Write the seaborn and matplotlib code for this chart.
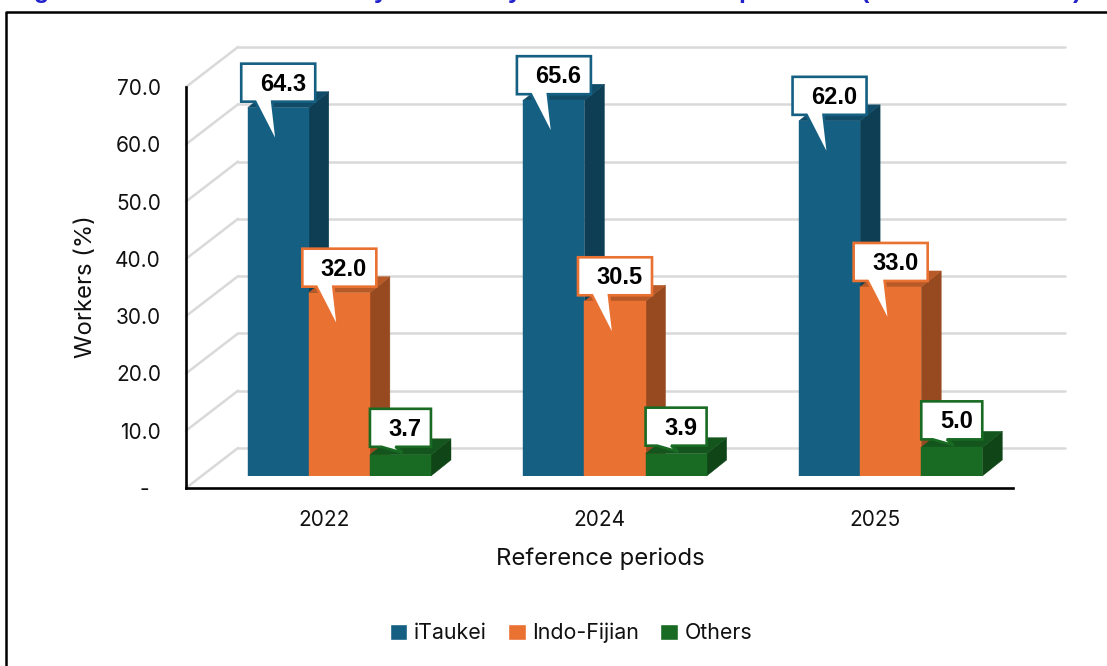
import matplotlib
matplotlib.use('Agg')
import matplotlib.pyplot as plt
from matplotlib.patches import Polygon
import pandas as pd
import seaborn as sns

periods = ['2022', '2024', '2025']
groups = ['iTaukei', 'Indo-Fijian', 'Others']
itaukei = [64.3, 65.6, 62.0]
indo_fijian = [32.0, 30.5, 33.0]
others = [3.7, 3.9, 5.0]
y_ticks = [0, 10, 20, 30, 40, 50, 60, 70]
y_labels = ['-  ', '10.0', '20.0', '30.0', '40.0', '50.0', '60.0', '70.0']

front_cols = ['#156082', '#E97132', '#196B24']
side_cols = ['#0D3E54', '#974A20', '#104617']
top_cols = ['#104C67', '#B85A28', '#14551D']

W, H = 1107, 666
sns.set_theme(style='white')
plt.rcParams['font.family'] = ['Inter', 'DejaVu Sans']

df = pd.DataFrame({
    'period': periods * 3,
    'group': [g for g in groups for _ in periods],
    'share': itaukei + indo_fijian + others,
})

fig = plt.figure(figsize=(W / 100, H / 100), dpi=100)
fig.patch.set_facecolor('white')

# axes rectangle in pixels
left, base, width, height = 186, 488, 827, 401
ax = fig.add_axes([left / W, (H - base) / H, width / W, height / H])
ax.set_xlim(-0.5, 2.5)
ax.set_ylim(0, 70)
px_x = 3 / width
px_y = 70 / height

# back wall + side wall gridlines
wall_dx, wall_dy = 52 * px_x, 40 * px_y
for t in y_ticks:
    ax.plot([2.5 + wall_dx - 3, 2.5 + wall_dx], [t + wall_dy, t + wall_dy], color='#D9D9D9', lw=1.8, clip_on=False, zorder=1)
    ax.plot([-0.5, -0.5 + wall_dx], [t, t + wall_dy], color='#D9D9D9', lw=1.8, clip_on=False, zorder=1)

ax.set_xticks(range(3))
ax.set_xticklabels(periods, fontsize=15)
ax.set_yticks(y_ticks)
ax.set_yticklabels(y_labels, fontsize=15)
ax.tick_params(axis='both', length=0, colors='#111111')
ax.tick_params(axis='x', pad=16)
ax.tick_params(axis='y', pad=18)
for s in ['top', 'right']:
    ax.spines[s].set_visible(False)
for s in ['left', 'bottom']:
    ax.spines[s].set_linewidth(1.9)
    ax.spines[s].set_color('black')
    ax.spines[s].set_zorder(5)
ax.set_xlabel('')
ax.set_ylabel('')
fig.text(600 / W, 1 - 559 / H, 'Reference periods', fontsize=17.2, ha='center', va='center', color='#111111')
fig.text(86 / W, 1 - 287 / H, 'Workers (%)', fontsize=17.2, rotation=90, ha='center', va='center', color='#111111')

# bars sit a bit forward of the wall, so they get an axes of their own
shift_x, shift_y = 15.5, 12
ax2 = fig.add_axes([(left + shift_x) / W, (H - base + shift_y) / H, width / W, height / H])
sns.barplot(data=df, x='period', y='share', hue='group', hue_order=groups, order=periods,
            palette=front_cols, width=0.665, gap=0, saturation=1, ax=ax2, errorbar=None)
ax2.set_xlim(-0.5, 2.5)
ax2.set_ylim(0, 70)
ax2.patch.set_alpha(0)
ax2.axis('off')

sns.move_legend(ax2, 'center', bbox_to_anchor=(571 / W, 1 - 633 / H), bbox_transform=fig.transFigure,
                ncol=3, frameon=False, title=None, fontsize=15.4, handlelength=0.82, handleheight=0.82,
                handletextpad=0.3, columnspacing=1.0)
for txt in ax2.get_legend().get_texts():
    txt.set_color('#111111')

depth_x, depth_y = 20 * px_x, 16 * px_y


def draw_callout(x0, x1, y_top, value, col, small):
    # box + tail drawn as a single outline, offsets are pixels
    xc = (x0 + x1) / 2
    if small:
        half, gap, box_h, tail = 30.5, 8, 38, 2
        tl, tr, tip = -19, -5, 2
    else:
        half, gap, box_h, tail = 37, 6, 38, -37
        tl, tr, tip = -23, -6, -1
    bx0 = xc - half * px_x
    bx1 = xc + half * px_x
    by0 = y_top + gap * px_y
    by1 = by0 + box_h * px_y
    verts = [(bx0, by0), (xc + tl * px_x, by0), (xc + tip * px_x, y_top + tail * px_y), (xc + tr * px_x, by0),
             (bx1, by0), (bx1, by1), (bx0, by1)]
    ax2.add_patch(Polygon(verts, closed=True, facecolor='white', edgecolor=col, lw=1.9,
                          joinstyle='miter', clip_on=False, zorder=30))
    ax2.text(xc + 4.5 * px_x, (by0 + by1) / 2 + 1 * px_y, f'{value:.1f}', ha='center', va='center_baseline', fontsize=17,
             fontweight='bold', family='Liberation Sans', color='black', zorder=31, clip_on=False)


bars = [p for p in ax2.patches if p.get_height() > 0]
bars = bars[:9]
for g in range(3):
    for c in range(3):
        p = bars[g * 3 + c]
        x0, x1 = p.get_x(), p.get_x() + p.get_width()
        top = p.get_height()
        z = 3 + g * 3
        p.set_zorder(z + 2)
        p.set_edgecolor(front_cols[g])
        p.set_linewidth(0.3)
        ax2.add_patch(Polygon([(x1, 0), (x1 + depth_x, depth_y), (x1 + depth_x, top + depth_y), (x1, top)],
                              closed=True, facecolor=side_cols[g], edgecolor=side_cols[g], lw=0.3, clip_on=False, zorder=z))
        ax2.add_patch(Polygon([(x0, top), (x0 + depth_x, top + depth_y), (x1 + depth_x, top + depth_y), (x1, top)],
                              closed=True, facecolor=top_cols[g], edgecolor=top_cols[g], lw=0.3, clip_on=False, zorder=z + 1))
        draw_callout(x0, x1, top, top, front_cols[g], g == 2)

# outer frame of the cropped page
fig.add_artist(plt.Line2D([5.5 / W, 5.5 / W, 1], [0, 1 - 12 / H, 1 - 12 / H], color='black', lw=1.8))

# only the descenders of the cropped heading survive along the top edge
for ch, xp in zip(['g', 'y', 'y', 'p', '(', ')'], [42, 381, 515, 746, 865, 1077]):
    fig.text(xp / W, 1 + 2 / H, ch, ha='center', va='baseline', fontsize=18, fontweight='bold',
             family='Liberation Sans', color='#2222CC')

plt.savefig('out.png', dpi=100)
